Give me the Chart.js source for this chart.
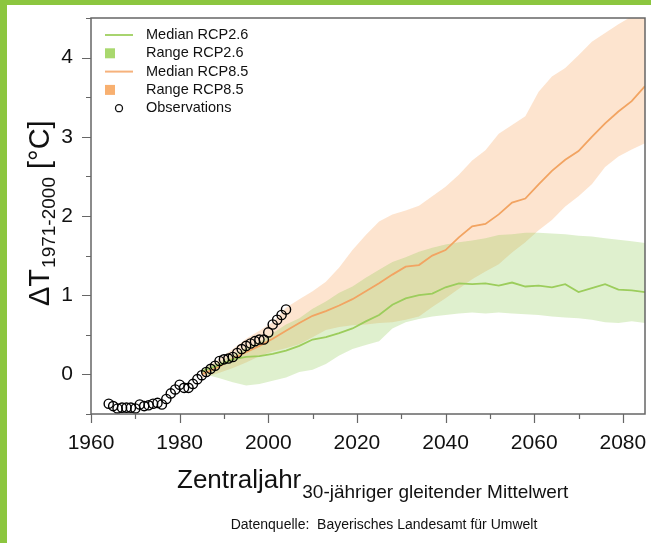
<!DOCTYPE html>
<html>
<head>
<meta charset="utf-8">
<script src="https://cdn.jsdelivr.net/npm/chart.js@4.4.1/dist/chart.umd.min.js"></script>
<style>
  html, body { margin: 0; padding: 0; background: #fff; }
  #wrap { position: relative; width: 651px; height: 543px; overflow: hidden; }
  #chart { position: absolute; left: 0; top: 0; }
  .edge { position: absolute; background: #8cc63f; }
</style>
</head>
<body>
<div id="wrap">
  <canvas id="chart" width="651" height="543"></canvas>
  <div class="edge" style="left:0;top:0;width:651px;height:5px"></div>
  <div class="edge" style="left:0;top:0;width:7px;height:543px"></div>
</div>
<script>
// observations (30-year running mean, central year)
const obsYears = [1964,1965,1966,1967,1968,1969,1970,1971,1972,1973,1974,1975,1976,1977,1978,1979,
  1980,1981,1982,1983,1984,1985,1986,1987,1988,1989,1990,1991,1992,1993,1994,1995,1996,1997,1998,1999,
  2000,2001,2002,2003,2004];
const obsValues = [-0.37,-0.40,-0.43,-0.42,-0.42,-0.42,-0.43,-0.38,-0.40,-0.39,-0.37,-0.36,-0.38,-0.31,-0.24,-0.19,
  -0.13,-0.17,-0.17,-0.12,-0.06,-0.01,0.03,0.07,0.11,0.17,0.19,0.20,0.22,0.27,0.32,0.36,0.39,0.42,0.44,0.44,
  0.53,0.63,0.69,0.75,0.82];

// model projections
const modelYears = [1985,1989,1992,1995,1998,2001,2004,2007,2010,2013,2016,2019,2022,2025,2028,2031,2034,
  2037,2040,2043,2046,2049,2052,2055,2058,2061,2064,2067,2070,2073,2076,2079,2082,2085];
const rcp26Median = [0.04,0.12,0.19,0.22,0.23,0.26,0.30,0.36,0.44,0.47,0.52,0.58,0.67,0.75,0.88,0.96,1.00,
  1.02,1.10,1.15,1.14,1.15,1.12,1.16,1.11,1.12,1.10,1.14,1.04,1.09,1.14,1.07,1.06,1.04];
const rcp26Low = [0.01,-0.05,-0.10,-0.14,-0.12,-0.08,-0.04,0.03,0.06,0.13,0.24,0.32,0.37,0.42,0.58,0.66,0.70,
  0.73,0.75,0.77,0.78,0.77,0.78,0.77,0.76,0.75,0.73,0.72,0.71,0.69,0.66,0.65,0.67,0.65];
const rcp26High = [0.07,0.16,0.25,0.34,0.41,0.52,0.63,0.71,0.83,0.92,1.03,1.11,1.22,1.32,1.42,1.48,1.55,
  1.60,1.64,1.67,1.69,1.72,1.76,1.77,1.79,1.79,1.78,1.77,1.75,1.74,1.72,1.70,1.68,1.66];
const rcp85Median = [0.00,0.10,0.20,0.28,0.36,0.45,0.55,0.65,0.74,0.80,0.87,0.95,1.05,1.15,1.26,1.36,1.38,
  1.50,1.57,1.73,1.87,1.90,2.02,2.17,2.22,2.40,2.57,2.71,2.82,3.00,3.17,3.32,3.45,3.64];
const rcp85Low = [-0.05,0.02,0.08,0.15,0.23,0.29,0.33,0.38,0.47,0.56,0.60,0.62,0.63,0.65,0.66,0.69,0.73,
  0.85,0.96,1.08,1.20,1.30,1.39,1.54,1.67,1.82,1.95,2.12,2.25,2.40,2.62,2.75,2.84,2.92];
const rcp85High = [0.05,0.20,0.32,0.45,0.55,0.66,0.84,0.95,1.05,1.17,1.35,1.57,1.76,1.93,2.02,2.07,2.13,
  2.25,2.37,2.52,2.70,2.83,3.04,3.15,3.26,3.57,3.76,3.87,4.03,4.20,4.31,4.42,4.52,4.70];

const xTickLabels = [1960, 1980, 2000, 2020, 2040, 2060, 2080];
const yTickLabels = [0, 1, 2, 3, 4];

const FONT = '"Liberation Sans", Arial, sans-serif';
Chart.defaults.font.family = FONT;

const pts = (xs, ys) => xs.map((x, i) => ({x: x, y: ys[i]}));

const band = (label, data, extra) => Object.assign({
  label: label, data: data, borderWidth: 0, borderColor: 'transparent',
  pointRadius: 0, fill: false
}, extra);

const axesAndLegend = {
  id: 'axesAndLegend',
  afterDatasetsDraw(chart, args, opts) {
    const {ctx, chartArea: a, scales: {x, y}} = chart;
    ctx.save();
    // box and tick marks
    ctx.strokeStyle = '#666';
    ctx.lineWidth = 1.5;
    ctx.strokeRect(a.left, a.top, a.right - a.left, a.bottom - a.top);
    ctx.lineWidth = 1.2;
    ctx.beginPath();
    x.ticks.forEach(t => {
      const px = Math.round(x.getPixelForValue(t.value)) + 0.5;
      ctx.moveTo(px, a.bottom);
      ctx.lineTo(px, a.bottom + (t.label ? 9 : 5));
    });
    y.ticks.forEach(t => {
      const py = Math.round(y.getPixelForValue(t.value)) + 0.5;
      ctx.moveTo(a.left, py);
      ctx.lineTo(a.left - (t.label ? 9 : 5), py);
    });
    ctx.stroke();

    // legend inside plot
    ctx.font = '14.5px ' + FONT;
    ctx.textBaseline = 'middle';
    opts.items.forEach((it, i) => {
      const ds = chart.data.datasets[it.ds];
      const cy = 35 + i * 18.3;
      if (it.sym === 'line') {
        ctx.strokeStyle = it.color;
        ctx.lineWidth = 2;
        ctx.beginPath();
        ctx.moveTo(105, cy);
        ctx.lineTo(133, cy);
        ctx.stroke();
      } else if (it.sym === 'box') {
        ctx.fillStyle = it.color;
        ctx.fillRect(105, cy - 5, 10, 10);
      } else {
        ctx.strokeStyle = it.color;
        ctx.lineWidth = 1.3;
        ctx.beginPath();
        ctx.arc(119, cy, 3.5, 0, Math.PI * 2);
        ctx.stroke();
      }
      ctx.fillStyle = '#111';
      ctx.fillText(ds.label, 146, cy);
    });
    ctx.restore();
  },
  afterDraw(chart) {
    const ctx = chart.ctx;
    ctx.save();
    ctx.fillStyle = '#111';
    ctx.textBaseline = 'alphabetic';

    // y axis title, rotated
    ctx.translate(49, 306);
    ctx.rotate(-Math.PI / 2);
    ctx.font = '29px ' + FONT;
    ctx.fillText('\u0394T', 0, 0);
    let w = ctx.measureText('\u0394T').width + 1;
    ctx.font = '19px ' + FONT;
    ctx.fillText('1971-2000', w, 6);
    w += ctx.measureText('1971-2000').width;
    ctx.font = '29px ' + FONT;
    ctx.fillText(' [\u00b0C]', w, 0);
    ctx.setTransform(1, 0, 0, 1, 0, 0);

    // x axis title
    ctx.font = '26px ' + FONT;
    ctx.fillText('Zentraljahr', 177, 488);
    const zw = ctx.measureText('Zentraljahr').width;
    ctx.font = '19px ' + FONT;
    ctx.fillText('30-j\u00e4hriger gleitender Mittelwert', 177 + zw + 1, 498);

    // source
    ctx.font = '14px ' + FONT;
    ctx.textAlign = 'center';
    ctx.fillText('Datenquelle:  Bayerisches Landesamt f\u00fcr Umwelt', 384, 529);
    ctx.restore();
  }
};

new Chart(document.getElementById('chart'), {
  type: 'line',
  data: {
    datasets: [
      {
        label: 'Observations', data: pts(obsYears, obsValues), showLine: false,
        pointRadius: 4.6, pointHoverRadius: 4.6, pointBorderWidth: 1.4,
        pointBorderColor: '#000', pointBackgroundColor: 'rgba(0,0,0,0)', borderColor: '#000'
      },
      {
        label: 'Median RCP2.6', data: pts(modelYears, rcp26Median),
        borderColor: '#9ccd5c', borderWidth: 1.8, pointRadius: 0, fill: false
      },
      {
        label: 'Median RCP8.5', data: pts(modelYears, rcp85Median),
        borderColor: '#f2a462', borderWidth: 1.8, pointRadius: 0, fill: false
      },
      band('Range RCP2.6 low', pts(modelYears, rcp26Low)),
      band('Range RCP2.6', pts(modelYears, rcp26High), {fill: 3, backgroundColor: 'rgba(140,200,80,0.28)'}),
      band('Range RCP8.5 low', pts(modelYears, rcp85Low)),
      band('Range RCP8.5', pts(modelYears, rcp85High), {fill: 5, backgroundColor: 'rgba(247,165,95,0.3)'})
    ]
  },
  options: {
    responsive: false,
    animation: false,
    layout: {padding: {top: 18, right: 3, bottom: 69, left: 0}},
    scales: {
      x: {
        type: 'linear', min: 1960, max: 2085,
        grid: {display: false}, border: {display: false},
        ticks: {
          stepSize: 10, includeBounds: false, autoSkip: false, maxRotation: 0,
          padding: 9, color: '#111', font: {size: 21},
          callback: v => xTickLabels.includes(v) ? String(v) : ''
        },
        afterFit(s) { s.height = 60; s.paddingLeft = 0; s.paddingRight = 0; }
      },
      y: {
        min: -0.5, max: 4.5,
        grid: {display: false}, border: {display: false},
        ticks: {
          stepSize: 0.5, includeBounds: false, autoSkip: false,
          padding: 10, color: '#111', font: {size: 21},
          callback: v => yTickLabels.includes(v) ? String(v) : ''
        },
        afterFit(s) { s.width = 91; s.paddingTop = 0; s.paddingBottom = 0; }
      }
    },
    plugins: {
      legend: {display: false},
      tooltip: {enabled: false},
      axesAndLegend: {
        items: [
          {ds: 1, sym: 'line', color: '#a8d46f'},
          {ds: 4, sym: 'box', color: '#a9d86e'},
          {ds: 2, sym: 'line', color: '#f6b27c'},
          {ds: 6, sym: 'box', color: '#f8b070'},
          {ds: 0, sym: 'circle', color: '#111'}
        ]
      }
    }
  },
  plugins: [axesAndLegend]
});
</script>
</body>
</html>
